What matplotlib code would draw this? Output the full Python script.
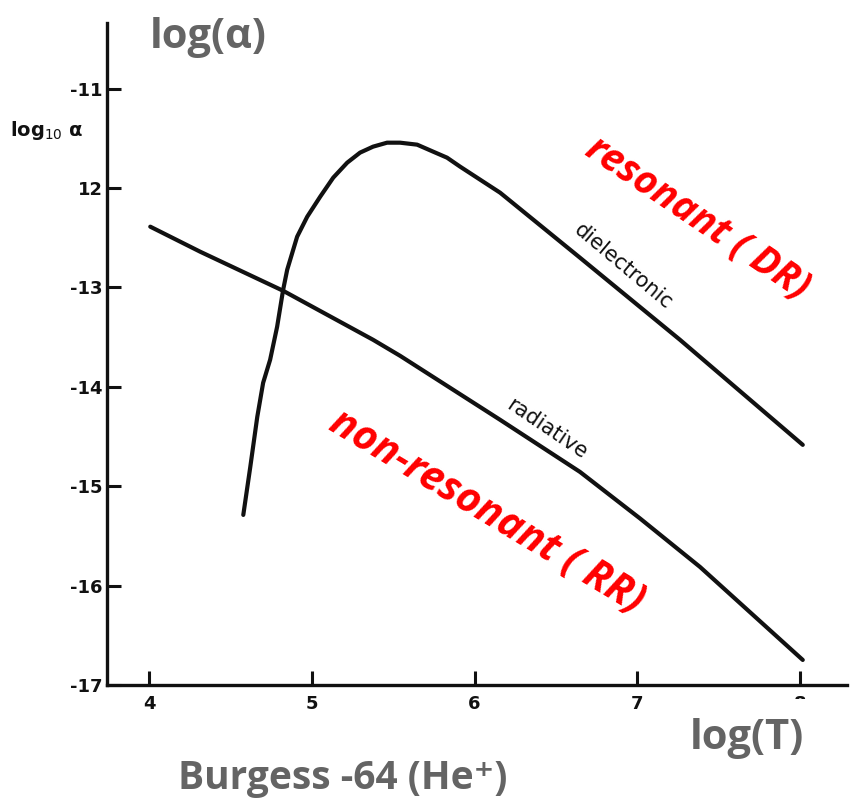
import matplotlib
matplotlib.use("Agg")
import matplotlib.pyplot as plt
from matplotlib.patches import Rectangle

# log10(T) and log10(alpha) for He+ recombination (Burgess 1964)
radiative_logT = [4.006, 4.313, 4.823, 5.376, 5.542, 6.157, 6.648, 7.017, 7.386, 8.018]
radiative_loga = [-12.389, -12.641, -13.034, -13.527, -13.688, -14.332, -14.856, -15.324,
                  -15.812, -16.748]

dielectronic_logT = [4.578, 4.621, 4.664, 4.700, 4.743, 4.786, 4.823, 4.848, 4.909, 4.971,
                     5.051, 5.131, 5.217, 5.296, 5.376, 5.462, 5.542, 5.647, 5.745, 5.831,
                     5.911, 6.034, 6.157, 6.648, 7.263, 8.018]
dielectronic_loga = [-15.289, -14.806, -14.302, -13.960, -13.728, -13.396, -13.024, -12.822,
                     -12.490, -12.289, -12.087, -11.896, -11.745, -11.644, -11.584, -11.544,
                     -11.544, -11.564, -11.634, -11.695, -11.785, -11.916, -12.047, -12.701,
                     -13.527, -14.584]

x_ticks = [4, 5, 6, 7, 8]
x_tick_labels = ["4", "5", "6", "7", "8"]
y_ticks = [-11, -12, -13, -14, -15, -16, -17]
y_tick_labels = ["-11", "12", "-13", "-14", "-15", "-16", "-17"]

W, H = 851, 805
fig = plt.figure(figsize=(W / 100, H / 100), dpi=100)
fig.patch.set_facecolor("white")
ax = fig.add_axes([107 / W, (H - 685) / H, (847 - 107) / W, (685 - 23) / H])
ax.set_xlim(3.74, 8.29)
ax.set_ylim(-17, -10.34)

ink = "#111111"
for xs, ys in ((radiative_logT, radiative_loga), (dielectronic_logT, dielectronic_loga)):
    ax.plot(xs, ys, color=ink, lw=3.0, solid_capstyle="round", solid_joinstyle="round")

for side in ("top", "right"):
    ax.spines[side].set_visible(False)
for side in ("left", "bottom"):
    ax.spines[side].set_linewidth(2.4)
    ax.spines[side].set_color(ink)

tick_font = dict(family=["Liberation Sans Narrow", "DejaVu Sans"], size=13, weight="bold")
ax.set_xticks(x_ticks)
ax.set_xticklabels(x_tick_labels, **tick_font)
ax.set_yticks(y_ticks)
ax.set_yticklabels(y_tick_labels, **tick_font)
ax.tick_params(axis="both", direction="in", length=10, width=2.2, color=ink, labelcolor=ink)
ax.tick_params(axis="x", pad=7)
ax.tick_params(axis="y", pad=3)

# curve names along the lines
ax.text(6.912, -12.79, "dielectronic", rotation=-40, fontsize=15, color=ink,
        family="DejaVu Sans", ha="center", va="center", rotation_mode="anchor")
ax.text(6.446, -14.42, "radiative", rotation=-34, fontsize=15, color=ink,
        family="DejaVu Sans", ha="center", va="center", rotation_mode="anchor")

# y-axis name beside the axis
fig.text(10 / W, 1 - 130 / H, r"log$_{10}$ α", fontsize=14, color=ink,
         family="DejaVu Sans", weight="bold", ha="left", va="center")

# annotations
red = "#FF0000"
fig.text(698 / W, 1 - 218 / H, "resonant ( DR)", rotation=-34, fontsize=28, color=red,
         family="Open Sans", style="italic", weight="bold", ha="center", va="center",
         rotation_mode="anchor")
fig.text(486 / W, 1 - 512 / H, "non-resonant ( RR)", rotation=-31, fontsize=29.5, color=red,
         family="Open Sans", style="italic", weight="bold", ha="center", va="center",
         rotation_mode="anchor")

grey = "#646464"
# white patch behind the log(T) caption
fig.patches.append(Rectangle((653 / W, 1 - 765 / H), 190 / W, 66 / H,
                             transform=fig.transFigure, facecolor="white",
                             edgecolor="none", zorder=5))
fig.text(208 / W, 1 - 37 / H, "log(α)", fontsize=30, color=grey, family="Open Sans",
         weight="bold", ha="center", va="center")
fig.text(747 / W, 1 - 738 / H, "log(T)", fontsize=30, color=grey, family="Open Sans",
         weight="bold", ha="center", va="center", zorder=6)
fig.text(343 / W, 1 - 778 / H, "Burgess -64 (He⁺)", fontsize=28, color=grey,
         family=["Open Sans", "DejaVu Sans"], weight="bold", ha="center", va="center")

fig.savefig("out.png", dpi=100, facecolor="white")
